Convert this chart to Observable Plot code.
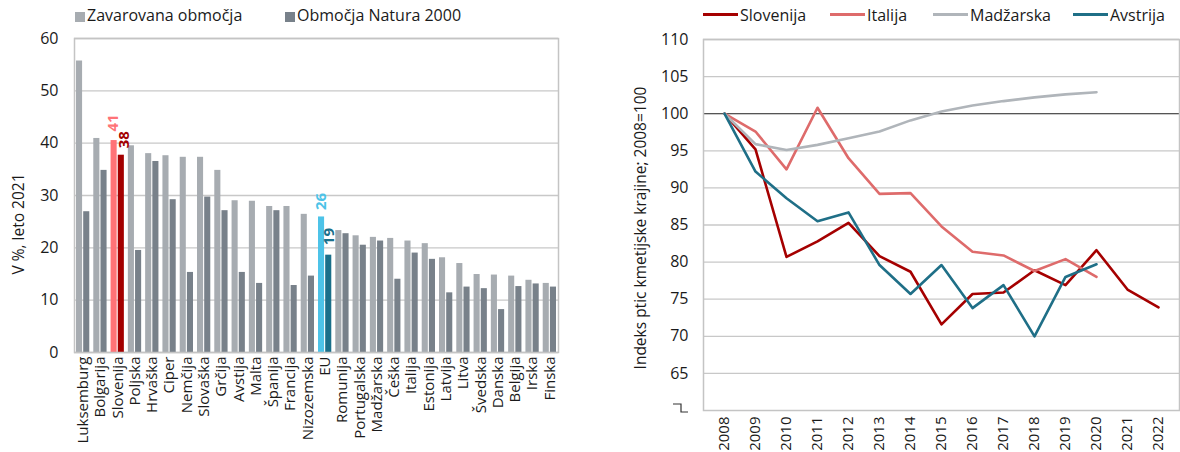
<!DOCTYPE html>
<html><head><meta charset="utf-8">
<script src="https://cdn.jsdelivr.net/npm/d3@7"></script>
<script src="https://cdn.jsdelivr.net/npm/@observablehq/plot@0.6"></script>
<style>
body{margin:0;background:#fff;font-family:"Open Sans",sans-serif;color:#1a1a1a;}
#wrap{position:relative;width:1180px;height:452px;overflow:hidden;}
.panel{position:absolute;top:0;}
.leg{position:absolute;top:5px;font-size:16px;line-height:20px;white-space:nowrap;}
.sq{display:inline-block;width:10px;height:10px;margin-right:2px;vertical-align:-1px;}
.ln{display:inline-block;width:35px;height:3px;vertical-align:5px;margin-right:2px;}
.ytitle{position:absolute;font-size:15.5px;line-height:18px;white-space:nowrap;transform:translate(-50%,-50%) rotate(-90deg);}
</style></head><body><div id="wrap"></div>
<script>
// ---- Left panel data ----
const countries = ["Luksemburg","Bolgarija","Slovenija","Poljska","Hrvaška","Ciper","Nemčija","Slovaška","Grčija","Avstija","Malta","Španija","Francija","Nizozemska","EU","Romunija","Portugalska","Madžarska","Češka","Italija","Estonija","Latvija","Litva","Švedska","Danska","Belgija","Irska","Finska"];
const protectedShare = [55.7,40.9,40.5,39.5,38.0,37.6,37.3,37.3,34.8,29.0,28.9,27.9,27.9,26.4,25.9,23.3,22.3,22.0,21.8,21.3,20.8,18.1,17.0,14.9,14.8,14.6,13.8,13.2];
const natura2000Share = [26.9,34.8,37.7,19.5,36.5,29.2,15.3,29.7,27.1,15.3,13.2,27.1,12.8,14.6,18.6,22.7,20.5,21.3,14.0,19.0,17.8,11.4,12.5,12.2,8.2,12.6,13.1,12.5];
const barSeries = ["Zavarovana območja","Območja Natura 2000"];
const barTicks = [0,10,20,30,40,50,60];

// ---- Right panel data ----
const years = [2008,2009,2010,2011,2012,2013,2014,2015,2016,2017,2018,2019,2020,2021,2022];
const lineSeries = ["Slovenija","Italija","Madžarska","Avstrija"];
const slovenija = [100,95.2,80.7,82.8,85.3,80.8,78.7,71.6,75.7,75.9,78.9,76.9,81.6,76.3,73.9];
const italija = [100,97.6,92.5,100.8,94.0,89.2,89.3,84.8,81.4,80.9,78.8,80.4,78.0];
const madzarska = [100,95.9,95.1,95.8,96.7,97.6,99.1,100.3,101.1,101.7,102.2,102.6,102.9];
const avstrija = [100,92.2,88.6,85.5,86.7,79.6,75.7,79.6,73.8,76.9,70.0,78.0,79.7];
const lineTicks = [65,70,75,80,85,90,95,100,105,110];

const FONT = '"Open Sans", sans-serif';
const wrap = document.getElementById("wrap");

// colours
const C = {light:"#a7acb1", dark:"#78818a", sloL:"#ff7377", sloD:"#a30000", euL:"#4dc3e8", euD:"#1a6f8a"};
const lineColors = ["#a50000","#de6b6b","#b0b5ba","#1f6f87"];

// ---- Left chart ----
const bars = countries.map((c,i)=>({country:c, prot:protectedShare[i], nat:natura2000Share[i]}));
const lightFill = d => d.country==="Slovenija" ? C.sloL : d.country==="EU" ? C.euL : C.light;
const darkFill = d => d.country==="Slovenija" ? C.sloD : d.country==="EU" ? C.euD : C.dark;
const slo = bars.filter(d => d.country==="Slovenija");
const eu = bars.filter(d => d.country==="EU");
const lbl = (data, key, fill, dx, dy) => Plot.text(data,{x:"country", y:key, text:d=>String(Math.round(d[key])), fill, rotate:-90, textAnchor:"start", dx, dy, fontWeight:"bold", fontSize:15});

const left = Plot.plot({
  width:590, height:452, marginLeft:74, marginRight:32, marginTop:38, marginBottom:100,
  style:{fontFamily:FONT, fontSize:"15px", color:"#1a1a1a", background:"transparent"},
  x:{type:"band", domain:countries, padding:0, round:false, label:null},
  y:{domain:[0,60], label:null},
  color:{type:"identity"},
  marks:[
    Plot.gridY(barTicks,{stroke:"#c8c8c8", strokeOpacity:1, strokeWidth:1.3}),
    Plot.barY(bars,{x:"country", y:"prot", fill:lightFill, insetLeft:2, insetRight:9.2}),
    Plot.barY(bars,{x:"country", y:"nat", fill:darkFill, insetLeft:9.2, insetRight:2}),
    Plot.frame({stroke:"#c4c4c4", strokeWidth:1.5}),
    Plot.axisY(barTicks,{tickSize:0, tickPadding:16, label:null, fontSize:16}),
    Plot.axisX({tickRotate:-90, tickSize:0, tickPadding:4, label:null, fontSize:15}),
    lbl(slo, "prot", C.sloL, -5, -9),
    lbl(slo, "nat", C.sloD, 6.5, -7),
    lbl(eu, "prot", C.euL, -3.6, -7),
    lbl(eu, "nat", C.euD, 3.8, -10)
  ]
});
left.classList.add("panel"); left.style.left="0px";
wrap.appendChild(left);

// ---- Right chart ----
const seriesValues = [slovenija, italija, madzarska, avstrija];
const lineData = lineSeries.flatMap((s,k)=>seriesValues[k].map((v,i)=>({country:s, year:years[i], value:v})));

const right = Plot.plot({
  width:590, height:452, marginLeft:113, marginRight:1, marginTop:39, marginBottom:42,
  style:{fontFamily:FONT, fontSize:"15px", color:"#1a1a1a", background:"transparent"},
  x:{type:"point", domain:years, padding:0.5, label:null},
  y:{domain:[60,110], label:null},
  color:{domain:lineSeries, range:lineColors},
  marks:[
    Plot.gridY(lineTicks,{stroke:"#c8c8c8", strokeOpacity:1, strokeWidth:1.3}),
    Plot.ruleY([100],{stroke:"#555", strokeWidth:1.3}),
    Plot.frame({stroke:"#c4c4c4", strokeWidth:1.5}),
    Plot.lineY(lineData,{x:"year", y:"value", stroke:"country", z:"country", strokeWidth:2.6}),
    Plot.axisY(lineTicks,{tickSize:0, tickPadding:15, label:null, fontSize:16}),
    Plot.axisX(years,{tickRotate:-90, tickSize:0, tickPadding:6, label:null, fontSize:15, tickFormat:d=>String(d)})
  ]
});
right.classList.add("panel"); right.style.left="590px";
wrap.appendChild(right);

// axis-break glyph at the bottom of the right y axis
{
  const y60 = right.scale("y").apply(60);
  const x0 = 113 - 30;
  d3.select(right).append("path")
    .attr("d", `M${x0},${y60-6}H${x0+8}V${y60+2}H${x0+15}`)
    .attr("fill","none").attr("stroke","#333").attr("stroke-width",1.2);
}

// ---- Legends ----
function addLegendSquare(x, color, text){
  const d = document.createElement("div"); d.className="leg"; d.style.left=x+"px";
  d.innerHTML = `<span class="sq" style="background:${color}"></span>${text}`;
  wrap.appendChild(d);
}
addLegendSquare(75, C.light, barSeries[0]);
addLegendSquare(285, C.dark, barSeries[1]);
const lineLegendX = [703, 830, 933, 1073];
lineSeries.forEach((s,k)=>{
  const d = document.createElement("div"); d.className="leg"; d.style.left=lineLegendX[k]+"px";
  d.innerHTML = `<span class="ln" style="background:${lineColors[k]}"></span>${s}`;
  wrap.appendChild(d);
});

// ---- Axis titles ----
function addTitle(x,y,text){
  const d = document.createElement("div"); d.className="ytitle";
  d.style.left=x+"px"; d.style.top=y+"px"; d.textContent=text; wrap.appendChild(d);
}
addTitle(18, 224, "V %, leto 2021");
addTitle(640, 228, "Indeks ptic kmetijske krajine; 2008=100");
</script></body></html>
